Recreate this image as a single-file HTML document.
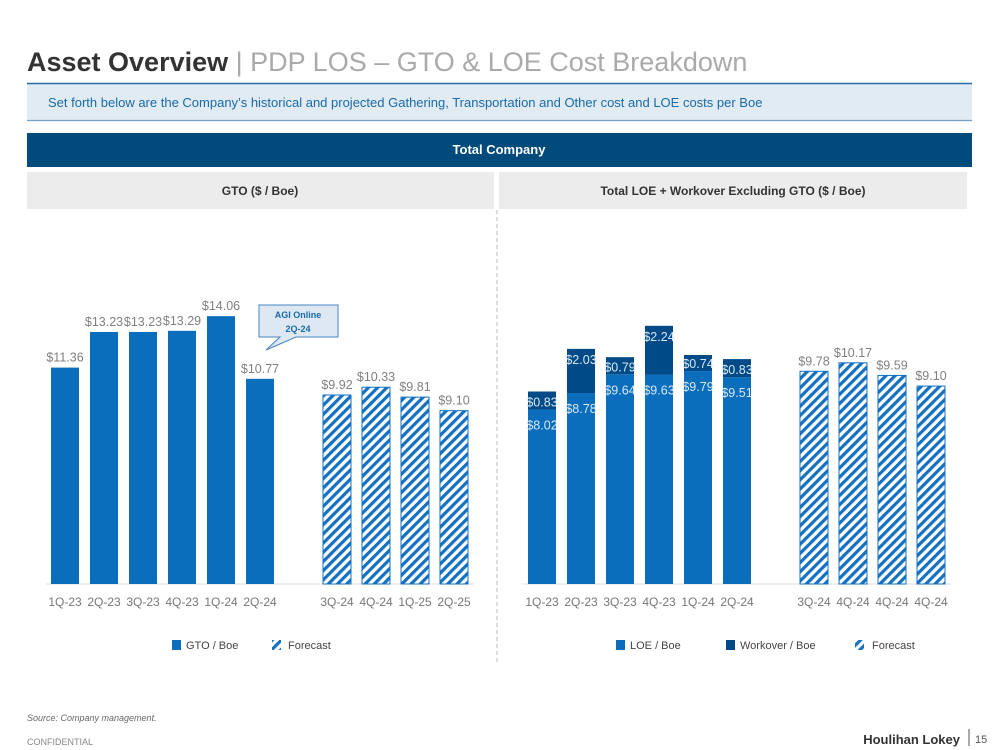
<!DOCTYPE html>
<html><head><meta charset="utf-8"><style>
body{margin:0;background:#fff;font-family:"Liberation Sans",sans-serif;}
svg{display:block}
text{font-family:"Liberation Sans",sans-serif}
</style></head><body>
<svg id="s" width="999" height="750" viewBox="0 0 999 750" xmlns="http://www.w3.org/2000/svg">
<defs>
<pattern id="hatch" patternUnits="userSpaceOnUse" width="6.5" height="6.5" patternTransform="rotate(45)">
<rect width="6.5" height="6.5" fill="#fff"/><rect width="3.2" height="6.5" fill="#1470c0"/>
</pattern>
</defs>
<text x="27" y="71" font-size="27" font-weight="bold" fill="#333">Asset Overview<tspan font-weight="normal" fill="#aaa"> | PDP LOS – GTO &amp; LOE Cost Breakdown</tspan></text>
<rect x="27" y="83" width="945" height="38" fill="#e1ebf4"/>
<line x1="27" y1="83.5" x2="972" y2="83.5" stroke="#2a6aa0" stroke-width="1.5"/>
<line x1="27" y1="120.5" x2="972" y2="120.5" stroke="#6fa0c8" stroke-width="1.2"/>
<text x="48" y="107" font-size="13" fill="#1a6aa8">Set forth below are the Company’s historical and projected Gathering, Transportation and Other cost and LOE costs per Boe</text>
<rect x="27" y="133" width="945" height="34" fill="#004a7c"/>
<text x="499" y="154" font-size="13" font-weight="bold" fill="#fff" text-anchor="middle">Total Company</text>
<rect x="27" y="172" width="467" height="37" fill="#ececec"/>
<rect x="499" y="172" width="468" height="37" fill="#ececec"/>
<text x="260" y="195" font-size="12" font-weight="bold" fill="#333" text-anchor="middle">GTO ($ / Boe)</text>
<text x="733" y="195" font-size="12" font-weight="bold" fill="#333" text-anchor="middle">Total LOE + Workover Excluding GTO ($ / Boe)</text>
<line x1="497" y1="210" x2="497" y2="662" stroke="#bbb" stroke-dasharray="4,3"/>
<line x1="46" y1="584" x2="474" y2="584" stroke="#ddd"/>
<line x1="523" y1="584" x2="951" y2="584" stroke="#ddd"/>
<g id="gto"></g><g id="loe"></g>
<g>
<path d="M259,305 H338 V337 H296 L266,350 L280,337 H259 Z" fill="#dde8f3" stroke="#4a86c0" stroke-width="1"/>
<text x="298" y="318" font-size="9" font-weight="bold" fill="#1a6aa8" text-anchor="middle">AGI Online</text>
<text x="298" y="332" font-size="9" font-weight="bold" fill="#1a6aa8" text-anchor="middle">2Q-24</text>
</g>
<g>
<rect x="172" y="640" width="9" height="10" fill="#0a6ebd"/><text x="186" y="649" font-size="11" fill="#444">GTO / Boe</text>
<rect x="272" y="640" width="9" height="10" fill="url(#hatch)"/><text x="288" y="649" font-size="11" fill="#444">Forecast</text>
</g>
<g>
<rect x="616" y="640" width="9" height="10" fill="#0a6ebd"/><text x="630" y="649" font-size="11" fill="#444">LOE / Boe</text>
<rect x="726" y="640" width="9" height="10" fill="#004b87"/><text x="740" y="649" font-size="11" fill="#444">Workover / Boe</text>
<rect x="855" y="640" width="9" height="10" fill="url(#hatch)"/><text x="872" y="649" font-size="11" fill="#444">Forecast</text>
</g>
<text x="27" y="721" font-size="9" font-style="italic" fill="#666">Source: Company management.</text>
<text x="27" y="745" font-size="9" fill="#888">CONFIDENTIAL</text>
<text x="960" y="744" font-size="13" font-weight="bold" fill="#333" text-anchor="end">Houlihan Lokey</text>
<line x1="969" y1="729" x2="969" y2="746" stroke="#555"/>
<text x="975" y="743" font-size="11" fill="#555">15</text>
</svg>
<script>
const gtoCats=["1Q-23","2Q-23","3Q-23","4Q-23","1Q-24","2Q-24","3Q-24","4Q-24","1Q-25","2Q-25"];
const gtoVals=[11.36,13.23,13.23,13.29,14.06,10.77,9.92,10.33,9.81,9.10];
const gtoForecast=[false,false,false,false,false,false,true,true,true,true];
const loeCats=["1Q-23","2Q-23","3Q-23","4Q-23","1Q-24","2Q-24","3Q-24","4Q-24","4Q-24","4Q-24"];
const loeVals=[8.02,8.78,9.64,9.63,9.79,9.51,9.78,10.17,9.59,9.10];
const workoverVals=[0.83,2.03,0.79,2.24,0.74,0.83,0,0,0,0];
const loeForecast=[false,false,false,false,false,false,true,true,true,true];
const NS="http://www.w3.org/2000/svg";
const baseY=584;
function mk(t,a,p){const e=document.createElementNS(NS,t);for(const k in a)e.setAttribute(k,a[k]);p.appendChild(e);return e;}
function xPos(i,x0){return x0+i*39+(i>=6?38:0);}
function fmt(v){return "$"+v.toFixed(2);}
const g=document.getElementById("gto");
const yG=v=>baseY-v*19.05;
gtoVals.forEach((v,i)=>{
 const x=xPos(i,51);
 const r=mk("rect",{x:x,y:yG(v),width:28,height:baseY-yG(v),fill:gtoForecast[i]?"url(#hatch)":"#0a6ebd",stroke:gtoForecast[i]?"#1470c0":"none","stroke-width":1},g);
 
 
 const t=mk("text",{x:x+14,y:yG(v)-6,"font-size":12.5,fill:"#808080","text-anchor":"middle"},g);t.textContent=fmt(v);
 
 
 const c=mk("text",{x:x+14,y:606,"font-size":12,fill:"#777","text-anchor":"middle"},g);c.textContent=gtoCats[i];
 
 
});
const l=document.getElementById("loe");
const yL=v=>baseY-v*21.75;
loeVals.forEach((v,i)=>{
 const x=xPos(i,528);
 const w=workoverVals[i];
 const r=mk("rect",{x:x,y:yL(v),width:28,height:baseY-yL(v),fill:loeForecast[i]?"url(#hatch)":"#0a6ebd",stroke:loeForecast[i]?"#1470c0":"none","stroke-width":1},l);
 
 
 if(loeForecast[i]){
  const t=mk("text",{x:x+14,y:yL(v)-6,"font-size":12.5,fill:"#808080","text-anchor":"middle"},l);t.textContent=fmt(v);
  
  
 } else {
  const wr=mk("rect",{x:x,y:yL(v+w),width:28,height:yL(v)-yL(v+w),fill:"#004b87"},l);
  
  
  const t1=mk("text",{x:x+14,y:yL(v)+20,"font-size":12.5,fill:"#d8e8f8","text-anchor":"middle"},l);t1.textContent=fmt(v);
  
  
  const t2=mk("text",{x:x+14,y:Math.min(yL(v+w)+15,yL(v)-3),"font-size":12.5,fill:"#d8e8f8","text-anchor":"middle"},l);t2.textContent=fmt(w);
  
  
 }
 const c=mk("text",{x:x+14,y:606,"font-size":12,fill:"#777","text-anchor":"middle"},l);c.textContent=loeCats[i];
 
 
});
</script>
</body></html>
